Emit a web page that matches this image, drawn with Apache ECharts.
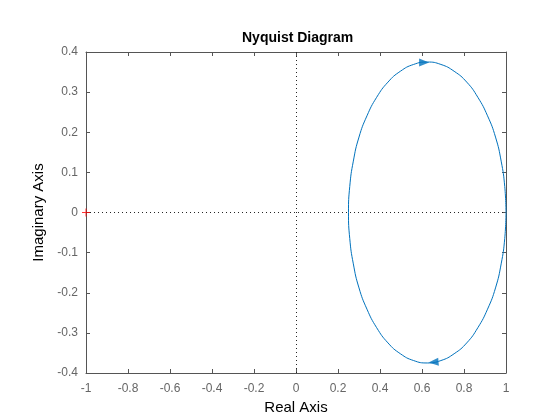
<!DOCTYPE html>
<html>
<head>
<meta charset="utf-8">
<script src="https://cdn.jsdelivr.net/npm/echarts@6/dist/echarts.min.js"></script>
<style>
  html, body { margin: 0; padding: 0; background: #fff; }
  #chart { width: 560px; height: 420px; }
</style>
</head>
<body>
<div id="chart"></div>
<script>
'use strict';
// 奈奎斯特曲线
// 正频率分支：从 (1,0) 经过下半部分到 (0.25,0)
var realPos = [1.000, 0.994, 0.977, 0.950, 0.912, 0.866, 0.813, 0.753, 0.690, 0.625,
               0.560, 0.497, 0.438, 0.384, 0.338, 0.300, 0.273, 0.256, 0.250];
var imagPos = [0.000, -0.065, -0.128, -0.188, -0.241, -0.287, -0.325, -0.352, -0.369, -0.375,
               -0.369, -0.352, -0.325, -0.287, -0.241, -0.188, -0.128, -0.065, 0.000];
// 负频率分支：从 (0.25,0) 经过上半部分回到 (1,0)
var realNeg = [0.250, 0.256, 0.273, 0.300, 0.338, 0.384, 0.438, 0.497, 0.560, 0.625,
               0.690, 0.753, 0.813, 0.866, 0.912, 0.950, 0.977, 0.994, 1.000];
var imagNeg = [0.000, 0.065, 0.128, 0.188, 0.241, 0.287, 0.325, 0.352, 0.369, 0.375,
               0.369, 0.352, 0.325, 0.287, 0.241, 0.188, 0.128, 0.065, 0.000];
// 方向箭头位置
var arrowPoints = [[0.61, 0.374], [0.655, -0.373]];
var arrowRotate = [-90, 95];
// 临界点 -1
var criticalPoint = [[-1, 0]];

var xTicks = { min: -1, max: 1, interval: 0.2 };
var yTicks = { min: -0.4, max: 0.4, interval: 0.1 };

function zip(xs, ys) {
    var arr = [];
    for (var i = 0; i < xs.length; i++) {
        arr.push([xs[i], ys[i]]);
    }
    return arr;
}

var curve = zip(realPos, imagPos).concat(zip(realNeg, imagNeg).slice(1));

var axisColor = '#555';
var labelColor = '#666';
var font = 'Liberation Sans, Arial, Helvetica, sans-serif';

function makeAxis(extra) {
    var base = {
        type: 'value',
        splitLine: { show: false },
        axisLine: { show: true, onZero: false, lineStyle: { color: axisColor, width: 1 } },
        axisTick: { show: true, inside: true, length: 4, lineStyle: { color: axisColor } },
        axisLabel: { show: false }
    };
    for (var k in extra) base[k] = extra[k];
    return base;
}

var chart = echarts.init(document.getElementById('chart'), null, { renderer: 'canvas' });
var option = {
    animation: false,
    backgroundColor: '#fff',
    title: {
        text: 'Nyquist Diagram',
        left: 237,
        top: 26,
        textStyle: { fontFamily: font, fontSize: 14, fontWeight: 'bold', color: '#000' }
    },
    grid: { left: 86, right: 54, top: 52, bottom: 47, containLabel: false },
    xAxis: [
        makeAxis({
            position: 'bottom', min: xTicks.min, max: xTicks.max, interval: xTicks.interval,
            name: 'Real Axis', nameLocation: 'middle', nameGap: 24,
            nameTextStyle: { fontFamily: font, fontSize: 15, color: '#000' },
            axisLabel: { show: true, margin: 10, color: labelColor, fontFamily: font, fontSize: 12 }
        }),
        makeAxis({ position: 'top', min: xTicks.min, max: xTicks.max, interval: xTicks.interval })
    ],
    yAxis: [
        makeAxis({
            position: 'left', min: yTicks.min, max: yTicks.max, interval: yTicks.interval,
            name: 'Imaginary Axis', nameLocation: 'middle', nameGap: 32,
            nameTextStyle: { fontFamily: font, fontSize: 15, color: '#000' },
            axisLabel: { show: true, margin: 8, color: labelColor, fontFamily: font, fontSize: 12 }
        }),
        makeAxis({ position: 'right', min: yTicks.min, max: yTicks.max, interval: yTicks.interval })
    ],
    series: [
        {
            type: 'line',
            data: curve,
            smooth: true,
            showSymbol: false,
            lineStyle: { color: '#0072BD', width: 1 },
            z: 3,
            markLine: {
                silent: true,
                symbol: ['none', 'none'],
                label: { show: false },
                lineStyle: { color: '#262626', width: 1, type: [1, 3] },
                data: [{ xAxis: 0 }, { yAxis: 0 }],
                z: 1
            }
        },
        {
            type: 'scatter',
            data: arrowPoints.map(function (p, i) {
                return { value: p, symbolRotate: arrowRotate[i] };
            }),
            symbol: 'triangle',
            symbolSize: [8, 10],
            itemStyle: { color: '#0072BD' },
            z: 4
        },
        {
            type: 'scatter',
            data: criticalPoint,
            clip: false,
            symbol: 'path://M0,3.5H8V4.5H0Z M3.5,0H4.5V8H3.5Z',
            symbolSize: [8, 8],
            itemStyle: { color: '#ff0000' },
            z: 5
        }
    ]
};
chart.setOption(option);
</script>
</body>
</html>
